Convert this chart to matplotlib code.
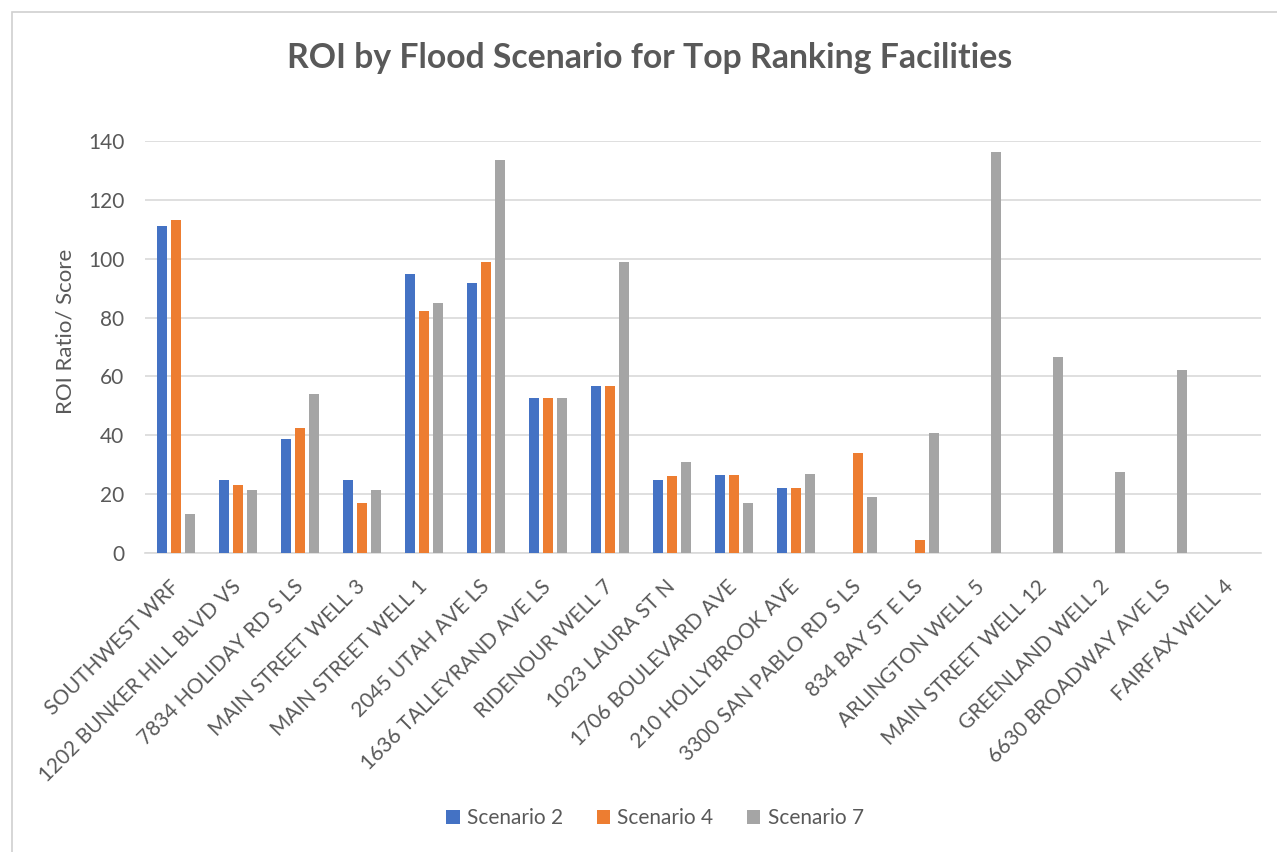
import matplotlib
matplotlib.use("Agg")
import matplotlib.pyplot as plt
import numpy as np
from matplotlib.patches import Rectangle

plt.rcParams['font.family'] = ['Lato', 'DejaVu Sans']

facilities = [
    "SOUTHWEST WRF", "1202 BUNKER HILL BLVD VS", "7834 HOLIDAY RD S LS",
    "MAIN STREET WELL 3", "MAIN STREET WELL 1", "2045 UTAH AVE LS",
    "1636 TALLEYRAND AVE LS", "RIDENOUR WELL 7", "1023 LAURA ST N",
    "1706 BOULEVARD AVE", "210 HOLLYBROOK AVE", "3300 SAN PABLO RD S LS",
    "834 BAY ST E LS", "ARLINGTON WELL 5", "MAIN STREET WELL 12",
    "GREENLAND WELL 2", "6630 BROADWAY AVE LS", "FAIRFAX WELL 4",
]
scenario_2 = [111.2, 24.8, 38.7, 24.8, 94.7, 91.6, 52.7, 56.7, 24.8,
              26.5, 22.2, 0, 0, 0, 0, 0, 0, 0]
scenario_4 = [113.0, 23.0, 42.6, 17.0, 82.4, 99.0, 52.7, 56.7, 26.0,
              26.5, 22.2, 34.0, 4.3, 0, 0, 0, 0, 0]
scenario_7 = [13.3, 21.3, 54.0, 21.3, 85.0, 133.5, 52.7, 98.9, 30.9,
              17.0, 27.0, 19.0, 40.8, 136.1, 66.5, 27.4, 62.3, 0]
series_names = ["Scenario 2", "Scenario 4", "Scenario 7"]
colors = ["#4472C4", "#ED7D31", "#A5A5A5"]
y_ticks = [0, 20, 40, 60, 80, 100, 120, 140]

text_color = "#595959"
grid_color = "#D9D9D9"

fig = plt.figure(figsize=(12.77, 8.52), dpi=100)
fig.patch.set_facecolor("white")

# chart frame
fig.patches.append(Rectangle((12 / 1277, -0.01), 1.02, 1 - 12 / 852 + 0.01,
                             transform=fig.transFigure, fill=False,
                             edgecolor="#D0D0D0", linewidth=1.2))

ax = fig.add_axes([145 / 1277, 1 - 553 / 852, (1261 - 145) / 1277, (553 - 141) / 852])

x = np.arange(len(facilities))
width = 0.17
offsets = [-0.225, 0.0, 0.225]
for vals, off, col, name in zip([scenario_2, scenario_4, scenario_7], offsets, colors, series_names):
    ax.bar(x + off, vals, width=width, color=col, label=name, zorder=3)

ax.set_xlim(-0.5, len(facilities) - 0.5)
ax.set_ylim(0, 140)
ax.set_yticks(y_ticks)
ax.set_yticklabels([str(v) for v in y_ticks], fontsize=15, color=text_color)
ax.grid(axis="y", color=grid_color, linewidth=1.2, zorder=0)
ax.tick_params(axis="y", length=0, pad=15)
ax.tick_params(axis="x", length=0, pad=22)

for s in ["top", "right", "left"]:
    ax.spines[s].set_visible(False)
ax.spines["bottom"].set_color(grid_color)
ax.spines["bottom"].set_linewidth(1.2)

ax.set_xticks(x)
ax.set_xticklabels(facilities, rotation=45, ha="right", va="center",
                   rotation_mode="anchor", fontsize=15, color=text_color)

fig.text(65 / 1277, 1 - 331 / 852, "ROI Ratio/ Score", rotation=90,
         ha="center", va="center", fontsize=16, color=text_color)

fig.text(650 / 1277, 1 - 58 / 852, "ROI by Flood Scenario for Top Ranking Facilities",
         ha="center", va="center", fontsize=24.3, fontweight="bold", color=text_color)

handles, labels = ax.get_legend_handles_labels()
fig.legend(handles, labels, loc="center", bbox_to_anchor=(655 / 1277, 1 - 818 / 852),
           ncol=3, frameon=False, fontsize=15, labelcolor=text_color,
           handlelength=0.65, handleheight=0.65, handletextpad=0.35, columnspacing=1.6)

fig.savefig("out.png", dpi=100, facecolor="white")
